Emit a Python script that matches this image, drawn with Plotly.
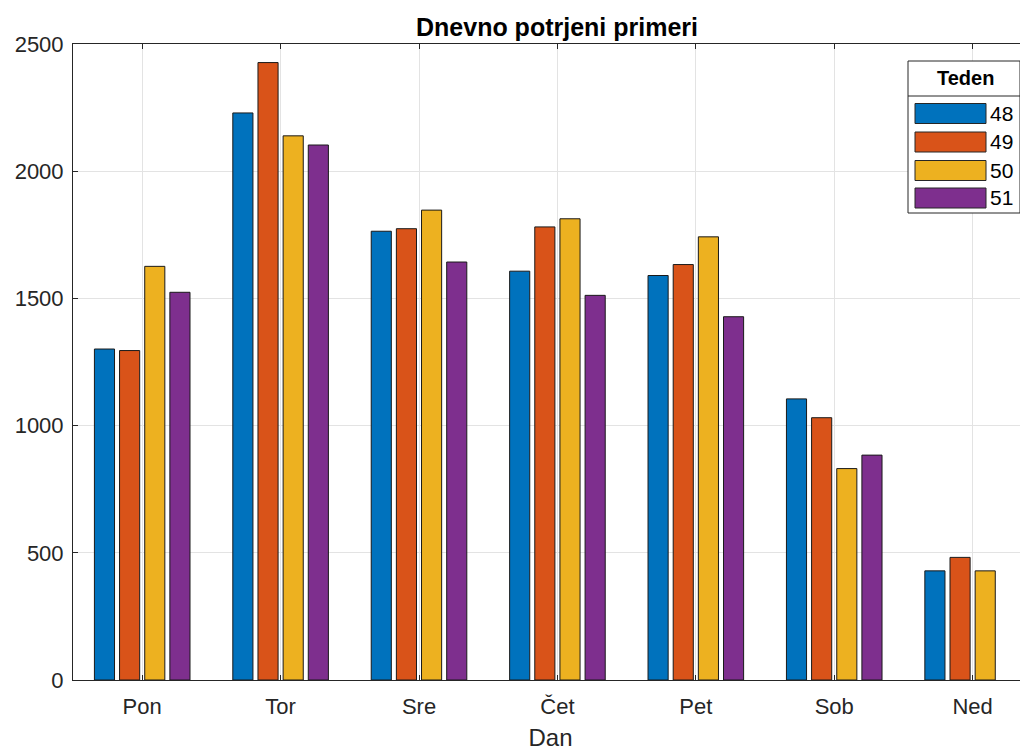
import plotly.graph_objects as go

days = ["Pon", "Tor", "Sre", "Čet", "Pet", "Sob", "Ned"]
weeks = ["48", "49", "50", "51"]
w48 = [1301, 2229, 1764, 1607, 1590, 1105, 429]
w49 = [1295, 2427, 1774, 1781, 1633, 1031, 482]
w50 = [1626, 2139, 1847, 1813, 1742, 831, 429]
w51 = [1524, 2103, 1643, 1512, 1428, 884, None]
colors = ["#0072BD", "#D95319", "#EDB120", "#7E2F8E"]
y_ticks = [0, 500, 1000, 1500, 2000, 2500]

# page body has an 8px offset; work in screen pixels, convert with OFF
OFF = 8
W, H = 1028 - OFF, 751 - OFF
L, R, T, B = 73 - OFF, 0, 44 - OFF, 751 - 680
PW = W - L - R
PH = H - T - B
FONT = "Liberation Sans, Arial, Helvetica, sans-serif"
TXT = "#262626"

def px(x):
    return (x - OFF - L) / PW

def py(y):
    return (H - B - (y - OFF)) / PH

fig = go.Figure()
for name, vals, c in zip(weeks, [w48, w49, w50, w51], colors):
    fig.add_trace(go.Bar(
        x=days, y=vals, name=name,
        marker=dict(color=c, line=dict(color="#1a1a1a", width=1)),
        showlegend=False,
    ))

shapes = []
annotations = []
bx0, bx1, by0, by1 = 908, 1020, 61, 213
shapes.append(dict(type="rect", xref="paper", yref="paper",
                   x0=px(bx0), x1=px(bx1), y0=py(by1), y1=py(by0),
                   line=dict(color="#262626", width=1), fillcolor="white", layer="above"))
shapes.append(dict(type="line", xref="paper", yref="paper",
                   x0=px(bx0), x1=px(bx1), y0=py(96), y1=py(96),
                   line=dict(color="#262626", width=1), layer="above"))
annotations.append(dict(text="<b>Teden</b>", xref="paper", yref="paper",
                        x=px(965), y=py(78.5), showarrow=False,
                        xanchor="center", yanchor="middle",
                        font=dict(family=FONT, size=20, color="black")))
row_y = [113.5, 142, 170.5, 198]
for name, c, ry in zip(weeks, colors, row_y):
    shapes.append(dict(type="rect", xref="paper", yref="paper",
                       x0=px(915), x1=px(986), y0=py(ry + 10), y1=py(ry - 10),
                       line=dict(color="#262626", width=1), fillcolor=c, layer="above"))
    annotations.append(dict(text=name, xref="paper", yref="paper",
                            x=px(988), y=py(ry), showarrow=False,
                            xanchor="left", yanchor="middle",
                            font=dict(family=FONT, size=21, color="black")))

fig.update_layout(
    width=W, height=H,
    margin=dict(l=L, r=R, t=T, b=B, pad=0),
    paper_bgcolor="white", plot_bgcolor="white",
    barmode="group", bargap=0.273, bargroupgap=0.2,
    title=dict(text="<b>Dnevno potrjeni primeri</b>", xref="container",
               x=(557 - OFF) / W, xanchor="center",
               yref="container", y=1 - (27 - OFF) / H, yanchor="middle",
               font=dict(family=FONT, size=25, color="black")),
    font=dict(family=FONT, size=22, color=TXT),
    shapes=shapes, annotations=annotations,
    xaxis=dict(
        type="category", range=[-0.5, 6.4],
        showline=True, linecolor="#262626", linewidth=1, mirror="ticks",
        ticks="inside", ticklen=5, tickcolor="#262626",
        showgrid=True, gridcolor="#e3e3e3", gridwidth=1,
        tickfont=dict(family=FONT, size=22, color=TXT),
        ticklabelstandoff=7,
        title=dict(text="Dan", font=dict(family=FONT, size=24, color=TXT), standoff=10),
    ),
    yaxis=dict(
        range=[0, 2500], tickvals=y_ticks,
        showline=True, linecolor="#262626", linewidth=1, mirror=False,
        ticks="inside", ticklen=5, tickcolor="#262626",
        showgrid=True, gridcolor="#e3e3e3", gridwidth=1, zeroline=False,
        tickfont=dict(family=FONT, size=22, color=TXT),
        ticklabelstandoff=4,
    ),
)

fig.write_html("out.html")
